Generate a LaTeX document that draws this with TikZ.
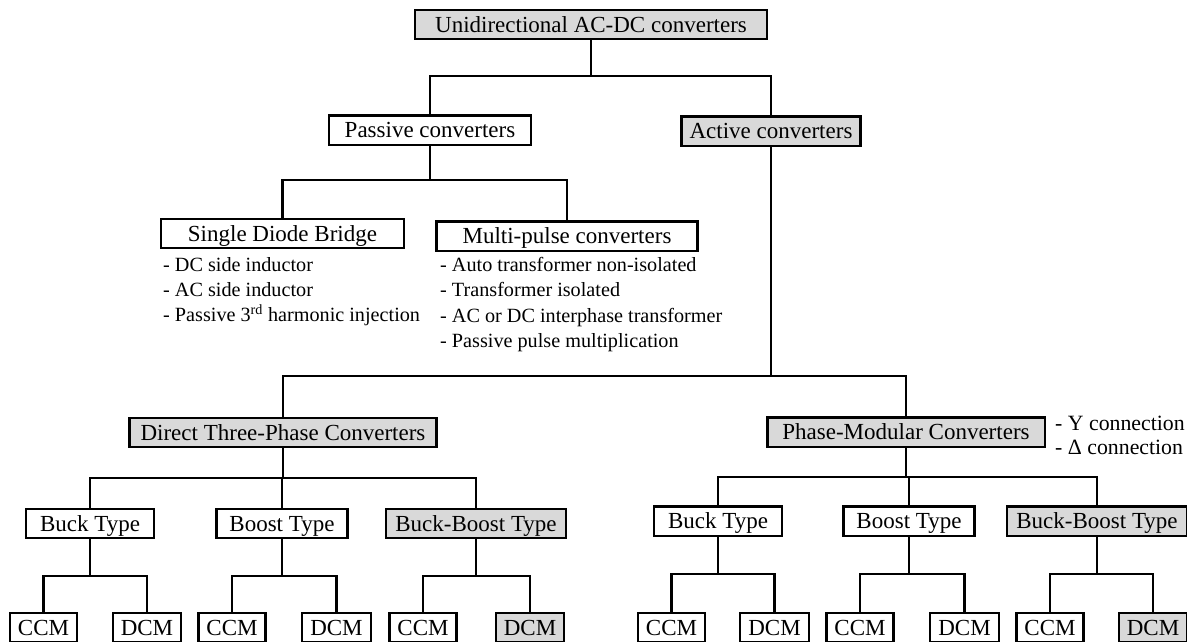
\documentclass[tikz,border=0pt]{standalone}
\usepackage{fontspec}
\setmainfont{Liberation Serif}

\tikzset{
  box/.style={draw, line width=2.2pt, fill=white, font=\fontsize{23}{27}\selectfont,
    text height=15.2pt, text depth=0pt, inner ysep=7pt, inner xsep=14pt},
  greybox/.style={box, fill=gray!30},
  modebox/.style={box, inner xsep=8pt},
  greymode/.style={modebox, fill=gray!30},
  bullets/.style={anchor=north west, align=left, inner sep=0pt, font=\fontsize{20.2}{25.3}\selectfont},
  branch/.style={line width=2.2pt},
}

\begin{document}
\begin{tikzpicture}[x=1pt,y=-1pt]

\useasboundingbox (0,0) rectangle (1187,641);

\node[greybox, inner xsep=20pt] (root) at (591,24.5) {Unidirectional AC-DC converters};

\node[box, inner xsep=16pt] (passive) at (430,130) {Passive converters};
\node[greybox, inner xsep=8pt] (active) at (771,131) {Active converters};

\node[box, inner xsep=27pt] (sdb) at (282.5,233.5) {Single Diode Bridge};
\node[box, inner xsep=26pt] (mpc) at (567,236) {Multi-pulse converters};

\node[bullets] (sdblist) at (163,257) {- DC side inductor\\- AC side inductor\\- Passive 3\textsuperscript{rd} harmonic injection};
\node[bullets] (mpclist) at (440,257) {- Auto transformer non-isolated\\- Transformer isolated\\- AC or DC interphase transformer\\- Passive pulse multiplication};

\node[greybox, inner xsep=11pt] (direct) at (283,432.5) {Direct Three-Phase Converters};
\node[greybox, inner xsep=15pt] (phase) at (906,432) {Phase-Modular Converters};
\node[bullets, font=\fontsize{21.8}{24}\selectfont] (phaselist) at (1055,416) {- Y connection\\- Δ connection};

\node[box] (buckA) at (90,523.5) {Buck Type};
\node[box, inner xsep=13pt] (boostA) at (282,523.5) {Boost Type};
\node[greybox, inner xsep=9pt] (bbA) at (476,523.5) {Buck-Boost Type};

\node[box] (buckB) at (718,521) {Buck Type};
\node[box, inner xsep=13pt] (boostB) at (909,521) {Boost Type};
\node[greybox, inner xsep=9pt] (bbB) at (1097,521) {Buck-Boost Type};

\node[modebox] (ccmA1) at (43.5,627.5) {CCM};
\node[modebox] (dcmA1) at (147,627.5) {DCM};
\node[modebox] (ccmA2) at (232,627.5) {CCM};
\node[modebox] (dcmA2) at (336.5,627.5) {DCM};
\node[modebox] (ccmA3) at (423,627.5) {CCM};
\node[greymode] (dcmA3) at (530,627.5) {DCM};

\node[modebox] (ccmB1) at (671.5,627.5) {CCM};
\node[modebox] (dcmB1) at (774.5,627.5) {DCM};
\node[modebox] (ccmB2) at (860,627.5) {CCM};
\node[modebox] (dcmB2) at (964.5,627.5) {DCM};
\node[modebox] (ccmB3) at (1050,627.5) {CCM};
\node[greymode] (dcmB3) at (1153,627.5) {DCM};

\foreach \a/\b/\y in {root/passive/76, root/active/76,
    passive/sdb/180, passive/mpc/180,
    active/direct/376, active/phase/376,
    direct/buckA/478, direct/boostA/478, direct/bbA/478,
    phase/buckB/477, phase/boostB/477, phase/bbB/477,
    buckA/ccmA1/576, buckA/dcmA1/576, boostA/ccmA2/576, boostA/dcmA2/576, bbA/ccmA3/576, bbA/dcmA3/576,
    buckB/ccmB1/574, buckB/dcmB1/574, boostB/ccmB2/574, boostB/dcmB2/574, bbB/ccmB3/574, bbB/dcmB3/574}
  \draw[branch] (\a.south) |- (\b.north |- 0,\y) -- (\b.north);

\end{tikzpicture}
\end{document}
